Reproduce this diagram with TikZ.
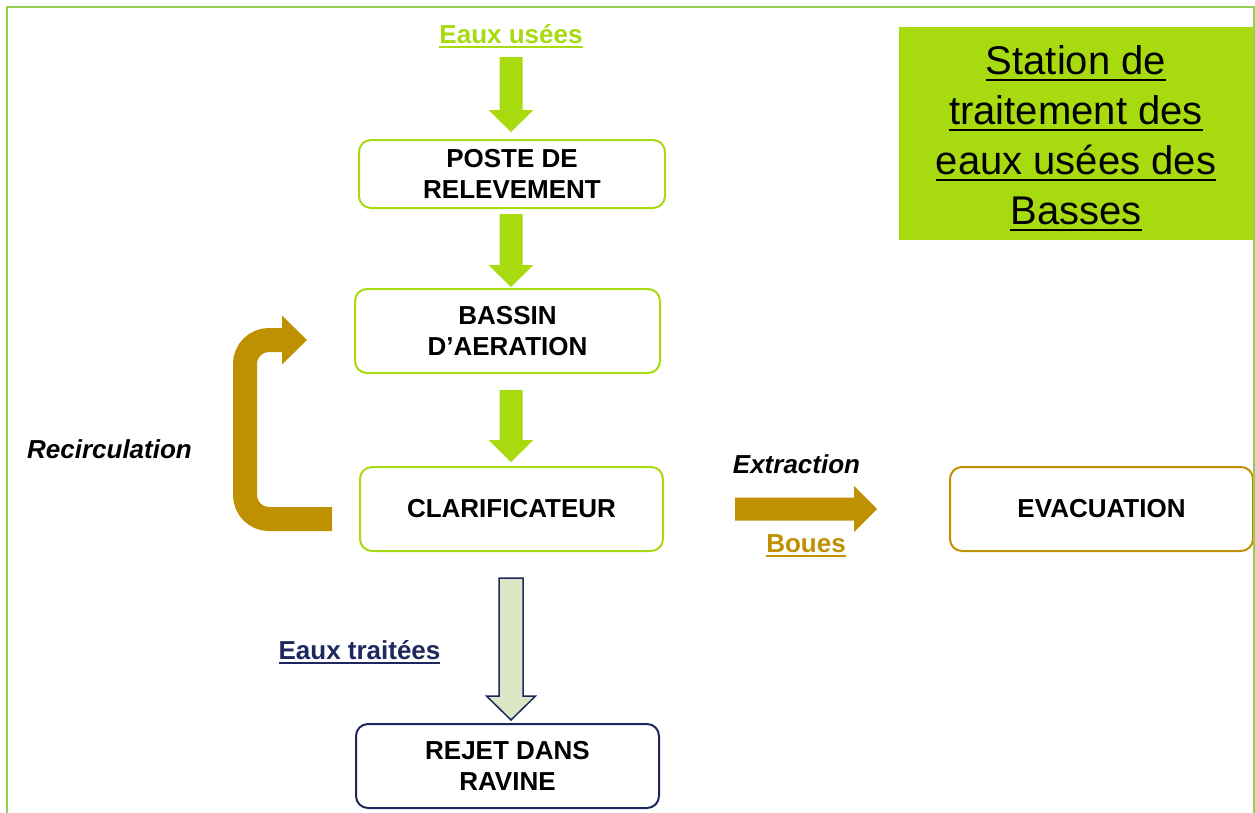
\documentclass[tikz,border=0pt]{standalone}
\usepackage{fontspec}
\setmainfont{Liberation Sans}
\usetikzlibrary{calc}
\definecolor{lime}{RGB}{168,218,16}
\definecolor{framegreen}{RGB}{146,208,80}
\definecolor{gold}{RGB}{191,144,0}
\definecolor{navy}{RGB}{31,40,94}
\definecolor{paleolive}{RGB}{221,230,196}
% underline: [thickness]{depth below baseline}{text}
\newcommand\ulx[3][2.5pt]{\setbox0\hbox{#3}\leavevmode\rlap{\rule[-#2]{\wd0}{#1}}\box0}
% vertical fat arrow: style, start, tip, half shaft, half head, head length
\newcommand\varrow[6]{\path[#1] let \p1=(#2), \p2=(#3) in
  (\x1-#4,\y1) -- (\x1+#4,\y1) -- (\x1+#4,\y2+#6) -- (\x1+#5,\y2+#6) -- (\x1,\y2)
  -- (\x1-#5,\y2+#6) -- (\x1-#4,\y2+#6) -- cycle;}
% horizontal fat arrow
\newcommand\harrow[6]{\path[#1] let \p1=(#2), \p2=(#3) in
  (\x1,\y1-#4) -- (\x2-#6,\y1-#4) -- (\x2-#6,\y1-#5) -- (\x2,\y1) -- (\x2-#6,\y1+#5)
  -- (\x2-#6,\y1+#4) -- (\x1,\y1+#4) -- cycle;}
\tikzset{
  box/.style={draw, rounded corners=12pt, line width=2pt, fill=white, text=black,
    minimum width=303pt, minimum height=84pt, align=center, inner sep=0pt,
    font=\fontsize{26}{31}\selectfont\bfseries},
  lbl/.style={anchor=base, inner sep=0pt, font=\fontsize{26}{31}\selectfont\bfseries},
  greenarrow/.style={fill=lime},
}
\begin{document}
\begin{tikzpicture}[x=1pt,y=-1pt]
\useasboundingbox (0,0) rectangle (1255,812);
% title
\node[fill=lime, minimum width=354pt, minimum height=213pt, inner sep=0pt, anchor=north west] (titlebox) at (899,27) {};
\node[anchor=north, align=center, inner sep=0pt, font=\fontsize{40}{50}\selectfont] (title) at (1076,45)
  {\ulx{7pt}{Station de}\\\ulx{7pt}{traitement des}\\\ulx{7pt}{eaux usées des}\\\ulx{7pt}{Basses}};
% boxes
\node[box, draw=lime, minimum width=306pt, minimum height=68pt] (poste) at (512,174) {POSTE DE\\RELEVEMENT};
\node[box, draw=lime, minimum width=305pt] (bassin) at (507.5,331) {BASSIN\\D’AERATION};
\node[box, draw=lime] (clarif) at (511.5,509) {CLARIFICATEUR};
\node[box, draw=gold] (evac) at (1101.5,509) {EVACUATION};
\node[box, draw=navy] (rejet) at (507.5,766) {REJET DANS\\RAVINE};
% labels
\node[lbl, text=lime] (eu) at (511,43) {\ulx{5pt}{Eaux usées}};
\node[lbl, font=\fontsize{26}{31}\selectfont\bfseries\itshape] (recirc) at (109.5,458) {Recirculation};
\node[lbl, font=\fontsize{26}{31}\selectfont\bfseries\itshape] (extr) at (796.5,473) {Extraction};
\node[lbl, text=gold] (boues) at (806,552) {\ulx{5pt}{Boues}};
\node[lbl, text=navy] (et) at (359.5,659) {\ulx{5pt}{Eaux traitées}};
% green arrows
\coordinate (src) at (511,57);
\varrow{greenarrow}{src}{$(poste.north)+(0,-7)$}{11.5pt}{22.5pt}{22pt}
\varrow{greenarrow}{$(poste.south)+(-1,5)$}{$(bassin.north)+(0,-1)$}{11.5pt}{22.5pt}{22pt}
\varrow{greenarrow}{$(bassin.south)+(3.5,16)$}{$(clarif.north)+(0,-4)$}{11.5pt}{22.5pt}{22pt}
% treated water arrow
\varrow{fill=paleolive, draw=navy, line width=1.5pt}{$(clarif.south)+(-0.5,26)$}{$(rejet.north)+(0,-3)$}{12pt}{24.5pt}{24pt}
% extraction arrow
\harrow{fill=gold}{$(clarif.east)+(71,0)$}{$(evac.west)+(-72,0)$}{11.5pt}{23pt}{23pt}
% recirculation arrow
\coordinate (rs) at ($(clarif.west)+(-27,10)$);
\coordinate (re) at ($(bassin.west)+(-72,9)$);
\draw[gold, line width=24pt, rounded corners=24pt] (rs) -| ($(re)+(-37,0)$) -- ($(re)+(1,0)$);
\fill[gold] ($(re)+(0,-24.5)$) -- ($(re)+(25,0)$) -- ($(re)+(0,24.5)$) -- cycle;
% frame
\draw[framegreen, line width=2pt] (6.5,820) -- (6.5,6.5) -- (1254,6.5) -- (1254,820);
\end{tikzpicture}
\end{document}
